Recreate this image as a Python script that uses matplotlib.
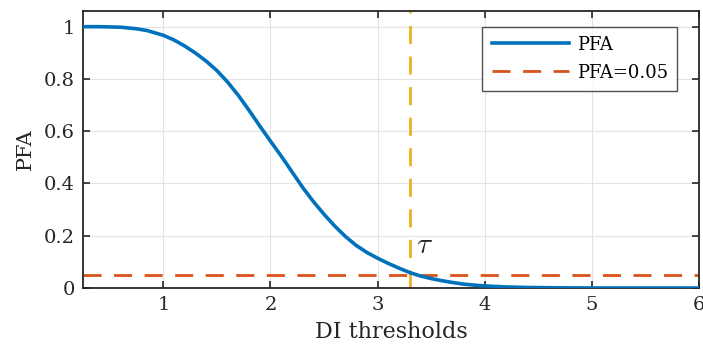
import matplotlib
matplotlib.use("Agg")
import matplotlib.pyplot as plt

# Data
di = [0.25, 0.4, 0.6, 0.75, 0.85, 1.0, 1.1, 1.2, 1.3, 1.4, 1.5, 1.6, 1.7, 1.8, 1.9, 2.0, 2.1, 2.2,
      2.3, 2.4, 2.5, 2.6, 2.7, 2.8, 2.9, 3.0, 3.1, 3.2, 3.3, 3.4, 3.5, 3.6, 3.7, 3.8, 3.9, 4.0,
      4.2, 4.4, 4.6, 4.8, 5.0, 5.5, 6.0]
pfa = [1.0, 1.0, 0.998, 0.992, 0.985, 0.967, 0.949, 0.926, 0.899, 0.868, 0.832, 0.788, 0.737, 0.68,
       0.62, 0.562, 0.505, 0.445, 0.385, 0.331, 0.282, 0.237, 0.197, 0.163, 0.136, 0.114, 0.094, 0.076,
       0.059, 0.046, 0.036, 0.028, 0.021, 0.015, 0.011, 0.008, 0.004, 0.002, 0.001, 0.0005, 0.0, 0.0, 0.0]
pfa_level = 0.05
tau = 3.3
xticks = [1, 2, 3, 4, 5, 6]
yticks = [0, 0.2, 0.4, 0.6, 0.8, 1]
ytick_labels = ["0", "0.2", "0.4", "0.6", "0.8", "1"]

plt.rcParams['font.family'] = ['DejaVu Serif']
plt.rcParams['mathtext.fontset'] = 'cm'

fig = plt.figure(figsize=(7.03, 3.54), dpi=100)
ax = fig.add_axes([83/703, 1 - 288/354, (699-83)/703, (288-11)/354])

ax.plot(di, pfa, color='#0072BD', lw=2.6, label='PFA', zorder=3)
ax.axhline(pfa_level, color='#D95319', lw=2.0, ls=(0, (6.5, 4.5)), label='PFA=0.05', zorder=2)
ax.axvline(tau, color='#EDB120', lw=2.0, ls=(0, (6.5, 4.5)), zorder=2)
ax.text(3.355, 0.165, r'$\tau$', fontsize=21, color='#262626', va='center', ha='left')

ax.set_xlim(0.25, 6)
ax.set_ylim(0, 1.06)
ax.set_xticks(xticks)
ax.set_yticks(yticks)
ax.set_yticklabels(ytick_labels)
ax.grid(True, color='#e3e3e3', lw=0.8)
ax.set_axisbelow(True)
ax.tick_params(direction='in', length=5, width=1.2, top=True, right=True, labelsize=14,
               colors='#262626', pad=6)
for s in ax.spines.values():
    s.set_linewidth(1.3)
    s.set_color('#262626')
ax.set_xlabel('DI thresholds', fontsize=16, color='#262626', labelpad=5)
ax.set_ylabel('PFA', fontsize=15, color='#262626', labelpad=6)

leg = ax.legend(loc='upper right', fontsize=13, frameon=True, fancybox=False,
                edgecolor='#262626', handlelength=4.3, handletextpad=0.45,
                labelspacing=0.55, borderpad=0.5, borderaxespad=0.0,
                bbox_to_anchor=(0.965, 0.943))
leg.get_frame().set_linewidth(1.0)

fig.savefig('out.png', dpi=100)
